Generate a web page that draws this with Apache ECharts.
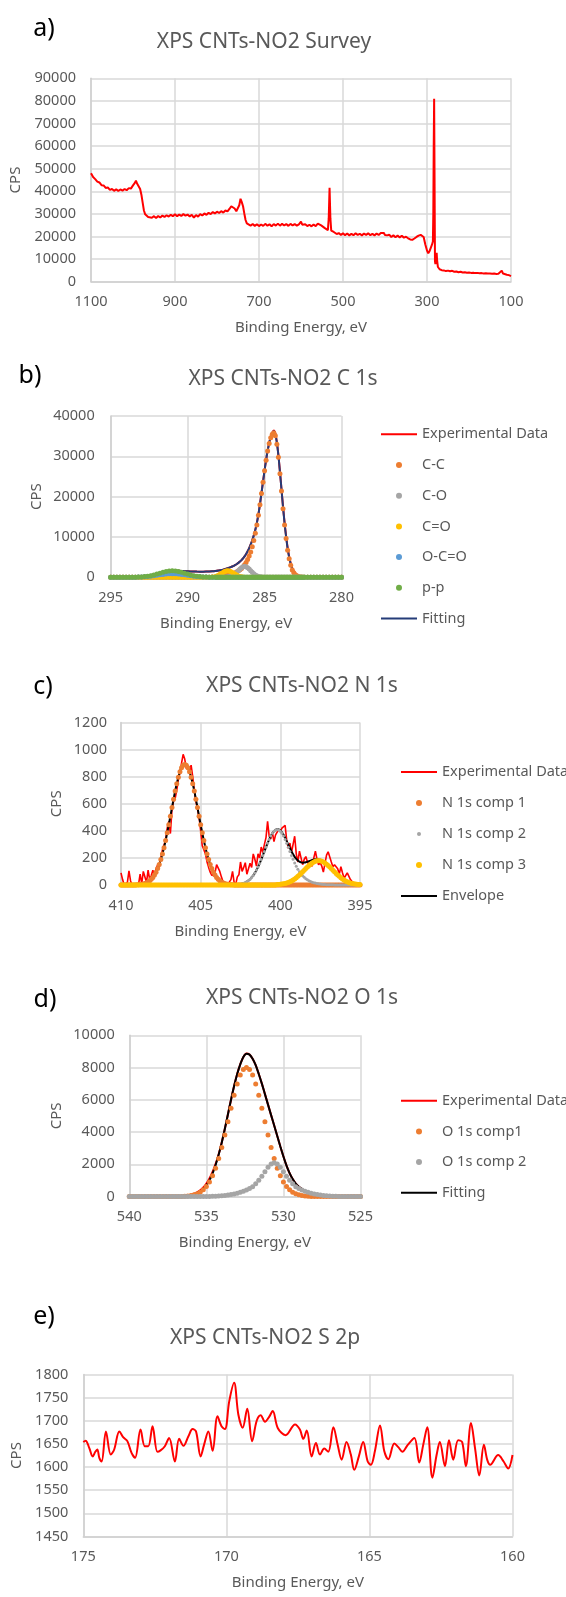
<!DOCTYPE html>
<html><head><meta charset="utf-8">
<script src="https://cdn.jsdelivr.net/npm/echarts@6/dist/echarts.min.js"></script>
<style>
html,body{margin:0;padding:0;background:#fff;width:566px;height:1597px;overflow:hidden}
.panel{position:absolute;left:0;width:566px}
</style></head><body>
<div id="pa" class="panel" style="top:0;height:345px"></div>
<div id="pb" class="panel" style="top:345px;height:300px"></div>
<div id="pc" class="panel" style="top:645px;height:300px"></div>
<div id="pd" class="panel" style="top:945px;height:315px"></div>
<div id="pe" class="panel" style="top:1260px;height:337px"></div>
<script>
// ---------------- a) Survey ----------------
const surveyData = [[1100,48000],[1095,46300],[1090,45400],[1085,44300],[1080,43900],[1075,42700],[1070,42600],[1065,41500],[1060,41700],[1055,40600],[1050,41000],[1045,40200],[1040,40900],[1035,40100],[1030,40800],[1025,40300],[1020,41000],[1015,40500],[1010,41400],[1005,41200],[1000,42600],[996,43600],[993,44700],[990,43300],[986,44000],[983,41000],[980,38500],[977,35000],[974,31500],[971,29800],[968,29400],[964,28600],[960,29100],[955,28300],[950,29000],[945,28200],[940,29100],[935,28400],[930,29300],[925,28600],[920,29400],[915,28800],[910,29600],[905,29000],[900,29800],[895,29000],[890,29700],[885,29100],[880,29900],[875,29200],[870,29700],[865,28900],[860,29600],[855,28400],[850,29500],[845,28800],[840,29900],[835,29300],[830,30200],[825,29600],[820,30500],[815,29900],[810,30800],[805,30200],[800,31000],[795,30400],[790,31200],[785,30600],[780,31500],[775,31100],[770,32300],[766,33400],[762,33900],[758,32400],[754,31200],[750,31400],[747,33800],[744,36700],[741,35200],[738,33400],[735,30200],[732,27300],[729,25800],[725,25400],[720,24800],[715,25500],[710,24700],[705,25400],[700,24600],[695,25300],[690,24700],[685,25600],[680,24800],[675,25400],[670,24500],[665,25500],[660,24800],[655,25700],[650,24800],[645,25600],[640,24900],[635,25500],[630,24700],[625,25600],[620,24900],[615,25500],[610,24800],[605,25400],[600,26600],[597,25200],[593,24700],[590,25400],[585,24600],[580,25200],[575,24500],[570,25300],[565,24600],[560,25700],[556,26000],[552,24900],[548,24700],[544,23800],[540,23300],[536,22800],[534,28000],[532,41600],[530,28000],[528,22600],[525,23300],[522,22000],[519,21500],[515,21100],[510,21500],[505,20700],[500,21400],[495,20600],[490,21300],[485,20500],[480,21200],[475,20600],[470,21400],[465,20700],[460,21200],[455,20500],[450,21300],[445,20700],[440,21400],[435,20600],[430,21200],[425,20500],[420,21300],[415,20700],[410,21500],[406,22300],[403,21600],[400,20700],[395,20500],[390,20800],[385,19800],[380,20500],[375,19700],[370,20400],[365,19600],[360,20300],[355,19500],[350,19900],[345,19200],[340,18700],[335,18500],[330,19100],[325,19800],[320,20400],[315,20700],[311,20900],[308,19800],[304,16500],[300,13800],[297,12600],[294,13500],[291,15000],[288,16500],[286,17800],[285,30000],[284,60000],[283,81000],[282,45000],[281,9000],[280,7800],[279,8300],[277,12800],[276,9500],[274,6500],[272,5800],[270,5500],[265,5100],[260,5000],[255,4700],[250,4900],[245,4600],[240,4800],[235,4400],[230,4500],[225,4200],[220,4400],[215,4100],[210,4200],[205,4000],[200,4100],[195,3900],[190,4000],[185,3800],[180,3900],[175,3700],[170,3800],[165,3600],[160,3700],[155,3600],[150,3650],[145,3500],[140,3600],[135,3450],[130,3500],[126,3700],[122,4900],[119,3600],[115,3300],[110,3100],[105,2900],[100,2500]];

// ---------------- b) C 1s ----------------
const c1sEnergy = [295.0,294.8,294.6,294.4,294.2,294.0,293.8,293.6,293.4,293.2,
293.0,292.8,292.6,292.4,292.2,292.0,291.8,291.6,291.4,291.2,
291.0,290.8,290.6,290.4,290.2,290.0,289.8,289.6,289.4,289.2,
289.0,288.8,288.6,288.4,288.2,288.1,288.0,287.9,287.8,287.7,
287.6,287.5,287.4,287.3,287.2,287.1,287.0,286.9,286.8,286.7,
286.6,286.5,286.4,286.3,286.2,286.1,286.0,285.9,285.8,285.7,
285.6,285.5,285.4,285.3,285.2,285.1,285.0,284.9,284.8,284.7,
284.6,284.5,284.4,284.3,284.2,284.1,284.0,283.9,283.8,283.7,
283.6,283.5,283.4,283.3,283.2,283.1,283.0,282.9,282.8,282.7,
282.6,282.5,282.4,282.2,282.0,281.8,281.6,281.4,281.2,281.0,
280.8,280.6,280.4,280.2,280.0];
const c1sExperimental = [0,0,0,0,0,0,0,20,50,90,
150,240,360,520,700,900,1100,1290,1450,1570,
1630,1640,1620,1580,1530,1480,1450,1430,1410,1400,
1400,1410,1440,1490,1560,1610,1670,1740,1820,1910,
2010,2120,2240,2370,2510,2670,2850,3060,3300,3580,
3900,4270,4700,5200,5780,6450,7250,8150,9200,10400,
11800,13500,15600,18100,20900,23700,26500,29100,31400,33300,
34900,35900,36400,35700,33500,30300,26200,21900,17500,13600,
10200,7300,5100,3500,2300,1500,1000,650,420,240,
120,50,10,0,0,0,0,0,0,0,
0,0,0,0,0];
const c1sCC = [0,0,0,0,0,0,0,0,0,0,
0,0,0,0,0,0,0,0,0,0,
0,0,0,0,0,0,0,0,0,0,
0,0,0,50,100,120,150,190,230,280,
350,420,500,600,700,850,1000,1150,1350,1600,
1900,2200,2600,3100,3700,4400,5300,6300,7600,9100,
10900,13000,15400,18000,20800,23600,26400,29000,31300,33200,
34600,35500,35800,35100,33000,29800,25700,21400,17000,13000,
9600,6700,4600,3000,1800,1100,630,360,190,100,
50,0,0,0,0,0,0,0,0,0,
0,0,0,0,0];
const c1sCO = [0,0,0,0,0,0,0,0,0,0,
0,0,0,0,0,0,0,0,0,0,
0,0,0,0,0,0,0,0,0,0,
0,0,0,0,0,0,0,0,0,0,
0,30,60,120,215,365,585,880,1240,1640,
2040,2380,2620,2700,2620,2380,2040,1640,1240,880,
585,365,215,120,60,30,0,0,0,0,
0,0,0,0,0,0,0,0,0,0,
0,0,0,0,0,0,0,0,0,0,
0,0,0,0,0,0,0,0,0,0,
0,0,0,0,0];
const c1sCdO = [0,0,0,0,0,0,0,0,0,0,
0,0,0,0,0,0,0,0,0,0,
0,0,0,0,0,0,0,0,0,0,
0,0,20,70,215,345,520,735,970,1210,
1410,1550,1600,1550,1410,1210,970,735,520,345,
215,130,70,35,20,0,0,0,0,0,
0,0,0,0,0,0,0,0,0,0,
0,0,0,0,0,0,0,0,0,0,
0,0,0,0,0,0,0,0,0,0,
0,0,0,0,0,0,0,0,0,0,
0,0,0,0,0];
const c1sOCdO = [0,0,0,0,0,0,0,14,26,45,
76,122,184,268,370,485,605,723,815,878,
900,878,815,723,605,485,370,268,184,122,
76,45,26,14,0,0,0,0,0,0,
0,0,0,0,0,0,0,0,0,0,
0,0,0,0,0,0,0,0,0,0,
0,0,0,0,0,0,0,0,0,0,
0,0,0,0,0,0,0,0,0,0,
0,0,0,0,0,0,0,0,0,0,
0,0,0,0,0,0,0,0,0,0,
0,0,0,0,0];
const c1sPiPi = [0,0,0,0,0,0,0,0,29,56,
100,171,275,415,594,802,1026,1243,1429,1556,
1600,1556,1429,1243,1026,802,594,415,275,171,
100,56,29,0,0,0,0,0,0,0,
0,0,0,0,0,0,0,0,0,0,
0,0,0,0,0,0,0,0,0,0,
0,0,0,0,0,0,0,0,0,0,
0,0,0,0,0,0,0,0,0,0,
0,0,0,0,0,0,0,0,0,0,
0,0,0,0,0,0,0,0,0,0,
0,0,0,0,0];
const c1sFitting = [0,0,0,0,0,0,0,20,50,90,
150,240,360,520,700,900,1100,1290,1450,1570,
1630,1640,1620,1580,1530,1480,1450,1430,1410,1400,
1400,1410,1440,1490,1560,1610,1670,1740,1820,1910,
2010,2120,2240,2370,2510,2670,2850,3060,3300,3580,
3900,4270,4700,5200,5780,6450,7250,8150,9200,10400,
11800,13500,15600,18100,20900,23700,26500,29100,31400,33300,
34800,35800,36200,35500,33400,30200,26100,21800,17400,13400,
10000,7100,4900,3300,2100,1300,800,460,250,130,
60,20,0,0,0,0,0,0,0,0,
0,0,0,0,0];

// ---------------- c) N 1s ----------------
const n1sEnergy = [410.0,409.9,409.8,409.7,409.6,409.5,409.4,409.3,409.2,409.1,
409.0,408.9,408.8,408.7,408.6,408.5,408.4,408.3,408.2,408.1,
408.0,407.9,407.8,407.7,407.6,407.5,407.4,407.3,407.2,407.1,
407.0,406.9,406.8,406.7,406.6,406.5,406.4,406.3,406.2,406.1,
406.0,405.9,405.8,405.7,405.6,405.5,405.4,405.3,405.2,405.1,
405.0,404.9,404.8,404.7,404.6,404.5,404.4,404.3,404.2,404.1,
404.0,403.9,403.8,403.7,403.6,403.5,403.4,403.3,403.2,403.1,
403.0,402.9,402.8,402.7,402.6,402.5,402.4,402.3,402.2,402.1,
402.0,401.9,401.8,401.7,401.6,401.5,401.4,401.3,401.2,401.1,
401.0,400.9,400.8,400.7,400.6,400.5,400.4,400.3,400.2,400.1,
400.0,399.9,399.8,399.7,399.6,399.5,399.4,399.3,399.2,399.1,
399.0,398.9,398.8,398.7,398.6,398.5,398.4,398.3,398.2,398.1,
398.0,397.9,397.8,397.7,397.6,397.5,397.4,397.3,397.2,397.1,
397.0,396.9,396.8,396.7,396.6,396.5,396.4,396.3,396.2,396.1,
396.0,395.9,395.8,395.7,395.6,395.5,395.4,395.3,395.2,395.1,
395.0];
const n1sExperimental = [90,40,0,0,20,105,30,0,0,0,
0,5,80,10,100,95,20,110,40,70,
110,60,120,150,130,200,260,250,330,420,
470,380,560,620,640,700,780,830,900,965,
930,860,880,840,885,800,700,620,560,500,
400,290,260,230,170,130,95,70,60,90,
150,140,100,60,25,10,10,5,10,40,
100,20,5,60,75,170,100,130,165,80,
120,160,130,230,190,140,230,200,280,240,
300,350,470,360,340,390,320,370,380,410,
395,420,430,440,330,270,310,240,300,360,
230,170,250,200,150,190,210,170,150,160,
140,200,250,190,150,165,140,95,160,220,
245,240,170,135,150,160,120,80,135,90,
50,60,90,80,40,25,30,10,20,5,
0];
const n1sComp1 = [0,0,0,0,0,0,0,0,0,0,
1,2,4,5,8,12,16,23,31,42,
56,73,95,121,152,188,229,276,328,385,
445,508,572,634,695,748,795,836,866,884,
890,884,866,836,795,748,695,634,572,508,
445,385,328,276,229,188,152,121,95,73,
56,42,31,23,16,12,8,5,4,2,
1,0,0,0,0,0,0,0,0,0,
0,0,0,0,0,0,0,0,0,0,
0,0,0,0,0,0,0,0,0,0,
0,0,0,0,0,0,0,0,0,0,
0,0,0,0,0,0,0,0,0,0,
0,0,0,0,0,0,0,0,0,0,
0,0,0,0,0,0,0,0,0,0,
0,0,0,0,0,0,0,0,0,0,
0];
const n1sComp2 = [0,0,0,0,0,0,0,0,0,0,
0,0,0,0,0,0,0,0,0,0,
0,0,0,0,0,0,0,0,0,0,
0,0,0,0,0,0,0,0,0,0,
0,0,0,0,0,0,0,0,0,0,
0,0,0,0,0,0,0,0,0,0,
0,0,0,0,0,0,0,0,0,0,
0,0,0,0,4,6,9,13,18,25,
33,43,56,71,89,110,133,159,188,218,
248,279,309,336,362,382,397,407,410,407,
397,382,362,336,309,279,248,218,190,163,
139,117,98,82,68,57,47,39,32,26,
21,17,14,11,9,7,5,4,3,2,
2,1,1,1,0,0,0,0,0,0,
0,0,0,0,0,0,0,0,0,0,
0];
const n1sComp3 = [0,0,0,0,0,0,0,0,0,0,
0,0,0,0,0,0,0,0,0,0,
0,0,0,0,0,0,0,0,0,0,
0,0,0,0,0,0,0,0,0,0,
0,0,0,0,0,0,0,0,0,0,
0,0,0,0,0,0,0,0,0,0,
0,0,0,0,0,0,0,0,0,0,
0,0,0,0,0,0,0,0,0,0,
0,0,0,0,0,0,0,0,0,0,
0,0,0,0,0,0,0,0,3,4,
5,7,9,12,15,19,24,30,37,45,
54,64,74,85,97,109,121,133,144,154,
163,170,176,179,180,179,176,170,163,154,
144,133,121,109,97,85,74,64,54,45,
37,30,24,19,15,12,9,7,5,4,
3];
const n1sEnvelope = [0,0,0,0,0,0,0,0,0,0,
1,2,4,5,8,12,16,23,31,42,
56,73,95,121,152,188,229,276,328,385,
445,508,572,634,695,748,795,836,866,884,
890,884,866,836,795,748,695,634,572,508,
445,385,328,276,229,188,152,121,95,73,
56,42,31,23,16,12,8,5,4,2,
1,0,0,0,4,6,9,13,18,25,
33,43,56,71,89,110,133,159,188,218,
248,279,309,336,362,382,397,407,413,411,
402,389,371,348,324,298,272,248,227,208,
193,181,172,167,165,166,168,172,176,180,
184,187,190,190,189,186,181,174,166,156,
146,134,122,110,97,85,74,64,54,45,
37,30,24,19,15,12,9,7,5,4,
3];

// ---------------- d) O 1s ----------------
const o1sEnergy = [540.0,539.8,539.6,539.4,539.2,539.0,538.8,538.6,538.4,538.2,
538.0,537.8,537.6,537.4,537.2,537.0,536.8,536.6,536.4,536.2,
536.0,535.8,535.6,535.4,535.2,535.0,534.8,534.6,534.4,534.2,
534.0,533.8,533.6,533.4,533.2,533.0,532.8,532.6,532.4,532.2,
532.0,531.8,531.6,531.4,531.2,531.0,530.8,530.6,530.4,530.2,
530.0,529.8,529.6,529.4,529.2,529.0,528.8,528.6,528.4,528.2,
528.0,527.8,527.6,527.4,527.2,527.0,526.8,526.6,526.4,526.2,
526.0,525.8,525.6,525.4,525.2,525.0];
const o1sExperimental = [0,0,0,0,0,0,0,0,0,0,
0,0,0,0,0,0,0,0,30,60,
110,170,260,380,560,800,1120,1520,2020,2620,
3360,4200,5100,6000,6850,7600,8200,8660,8870,8810,
8550,8150,7600,7000,6350,5700,5050,4400,3750,3100,
2480,1920,1450,1080,800,600,460,360,280,210,
160,120,90,65,45,30,20,12,6,0,
0,0,0,0,0,0];
const o1sComp1 = [0,0,0,0,0,0,0,0,0,0,
0,0,0,0,0,0,0,0,19,34,
59,101,167,267,415,620,905,1280,1760,2350,
3040,3810,4640,5480,6280,6980,7530,7880,8000,7880,
7530,6980,6280,5480,4640,3810,3040,2350,1760,1280,
905,620,415,267,167,101,59,34,19,0,
0,0,0,0,0,0,0,0,0,0,
0,0,0,0,0,0];
const o1sComp2 = [0,0,0,0,0,0,0,0,0,0,
0,0,0,0,0,0,0,0,0,0,
0,0,0,0,0,0,6,12,20,30,
45,65,90,120,155,200,260,330,400,490,
610,790,1010,1260,1540,1820,2020,2100,2020,1820,
1540,1260,1010,790,610,490,400,330,260,200,
155,120,90,65,45,30,20,12,6,0,
0,0,0,0,0,0];
const o1sFitting = [0,0,0,0,0,0,0,0,0,0,
0,0,0,0,0,0,0,0,20,40,
70,115,190,300,460,690,1000,1420,1950,2600,
3350,4200,5100,6000,6850,7600,8200,8650,8850,8800,
8550,8150,7600,7000,6350,5700,5050,4400,3750,3100,
2480,1920,1450,1080,800,600,460,360,280,210,
160,120,90,65,45,30,20,12,6,0,
0,0,0,0,0,0];

// ---------------- e) S 2p ----------------
const s2pData = [[175.0,1654],[174.92,1657],[174.79,1641],[174.67,1623],[174.58,1633],[174.51,1638],[174.44,1620],[174.36,1612],[174.21,1677],[174.04,1627],[173.92,1638],[173.74,1677],[173.6,1664],[173.46,1656],[173.31,1630],[173.19,1620],[173.0,1681],[172.85,1645],[172.73,1645],[172.58,1688],[172.41,1633],[172.3,1636],[172.15,1645],[172.0,1663],[171.8,1612],[171.65,1661],[171.5,1646],[171.33,1666],[171.18,1682],[171.06,1677],[170.9,1623],[170.78,1648],[170.63,1677],[170.48,1635],[170.31,1710],[170.17,1688],[170.05,1682],[169.9,1742],[169.73,1782],[169.58,1713],[169.43,1685],[169.27,1726],[169.1,1656],[168.94,1700],[168.8,1712],[168.65,1698],[168.51,1708],[168.38,1721],[168.2,1684],[167.93,1669],[167.6,1692],[167.43,1681],[167.31,1661],[167.19,1679],[167.02,1623],[166.87,1652],[166.73,1627],[166.58,1640],[166.44,1633],[166.26,1686],[166.11,1648],[165.97,1616],[165.8,1654],[165.65,1627],[165.53,1594],[165.37,1623],[165.22,1654],[165.06,1612],[164.95,1605],[164.81,1634],[164.63,1690],[164.48,1634],[164.34,1617],[164.13,1651],[163.99,1643],[163.85,1633],[163.66,1648],[163.43,1663],[163.26,1610],[163.12,1648],[162.98,1686],[162.8,1577],[162.65,1627],[162.54,1654],[162.36,1602],[162.22,1658],[162.07,1616],[161.9,1658],[161.76,1654],[161.63,1602],[161.45,1695],[161.31,1641],[161.16,1582],[161.0,1648],[160.88,1615],[160.78,1605],[160.5,1626],[160.31,1612],[160.15,1597],[160.0,1626]];

// ---------------- helpers ----------------
const FONT = '"Noto Sans", "DejaVu Sans", sans-serif';
const TXT = '#595959';
const RED = '#FF0000', ORANGE = '#ED7D31', GRAY = '#A5A5A5', GOLD = '#FFC000', BLUE = '#5B9BD5', GREEN = '#70AD47', NAVY = '#253C78', BLACK = '#000000';
const LINE_ICON = 'path://M0,0H36V2H0Z';
const SMALL_DOT_ICON = 'path://M0,0M36,6M16,3a2,2 0 1,0 4,0a2,2 0 1,0 -4,0Z';

function zip(xs, ys) { return xs.map((x, i) => [x, ys[i]]); }

function lineSeries(name, data, color, width, smooth) {
  return { type: 'line', name, data, symbol: 'none', showSymbol: false, smooth: smooth || false,
    lineStyle: { color, width }, itemStyle: { color }, z: 2, silent: true, animation: false };
}
function dotSeries(name, data, color, size) {
  return { type: 'scatter', name, data, symbol: 'circle', symbolSize: size || 5,
    itemStyle: { color, opacity: 1 }, z: 3, silent: true, animation: false };
}

function makeOption(p) {
  const axisLine = { show: true, lineStyle: { color: '#cfcfcf', width: 1.5 } };
  const split = { show: true, lineStyle: { color: '#d9d9d9', width: 1.5 } };
  const lab = (m) => ({ color: TXT, fontSize: 14.5, fontFamily: FONT, margin: m, formatter: v => String(v) });
  const opt = {
    animation: false,
    textStyle: { fontFamily: FONT },
    graphic: [
      { type: 'text', x: p.tag[1], y: p.tag[2], style: { text: p.tag[0], fill: '#000', fontSize: 25, fontFamily: FONT, align: 'center', verticalAlign: 'middle' } },
      { type: 'text', x: p.title[1], y: p.title[2], style: { text: p.title[0], fill: TXT, fontSize: 21, fontFamily: FONT, align: 'center', verticalAlign: 'middle' } }
    ],
    grid: { left: p.grid[0], top: p.grid[1], width: p.grid[2], height: p.grid[3], containLabel: false, outerBoundsMode: 'none' },
    xAxis: { type: 'value', inverse: true, min: p.x[0], max: p.x[1], interval: p.x[2],
      name: 'Binding Energy, eV', nameLocation: 'middle', nameGap: p.xNameGap,
      nameTextStyle: { color: TXT, fontSize: 15, fontFamily: FONT },
      axisLine, axisTick: { show: false }, axisLabel: lab(13), splitLine: split },
    yAxis: { type: 'value', min: p.y[0], max: p.y[1], interval: p.y[2],
      name: 'CPS', nameLocation: 'middle', nameGap: p.yNameGap,
      nameTextStyle: { color: TXT, fontSize: 15, fontFamily: FONT },
      axisLine, axisTick: { show: false }, axisLabel: lab(p.yMargin), splitLine: split },
    series: p.series
  };
  if (p.legend) {
    opt.legend = { orient: 'vertical', left: p.legend.left, top: p.legend.top, padding: 0,
      itemWidth: 36, itemHeight: 6, itemGap: p.legend.gap, selectedMode: false,
      textStyle: { color: TXT, fontSize: 14.5, fontFamily: FONT, lineHeight: 16 },
      data: p.legend.items };
  }
  return opt;
}

function render(id, p) {
  const chart = echarts.init(document.getElementById(id), null, { renderer: 'canvas' });
  chart.setOption(makeOption(p));
}

// a) Survey
render('pa', {
  tag: ['a)', 44, 29], title: ['XPS CNTs-NO2 Survey', 264, 42],
  grid: [91, 78.3, 420, 203.4], x: [100, 1100, 200], y: [0, 90000, 10000],
  xNameGap: 39, yNameGap: 64, yMargin: 15,
  series: [lineSeries('Survey', surveyData, RED, 2, false)]
});

// b) C 1s
render('pb', {
  tag: ['b)', 30, 31], title: ['XPS CNTs-NO2 C 1s', 283, 34],
  grid: [110.7, 71, 230.8, 161.3], x: [280, 295, 5], y: [0, 40000, 10000],
  xNameGap: 39, yNameGap: 66, yMargin: 16,
  series: [
    lineSeries('Experimental Data', zip(c1sEnergy, c1sExperimental), RED, 2, 0.3),
    dotSeries('C-C', zip(c1sEnergy, c1sCC), ORANGE),
    dotSeries('C-O', zip(c1sEnergy, c1sCO), GRAY),
    dotSeries('C=O', zip(c1sEnergy, c1sCdO), GOLD),
    dotSeries('O-C=O', zip(c1sEnergy, c1sOCdO), BLUE),
    dotSeries('p-p', zip(c1sEnergy, c1sPiPi), GREEN),
    lineSeries('Fitting', zip(c1sEnergy, c1sFitting), NAVY, 2, 0.3)
  ],
  legend: { left: 381, top: 81.3, gap: 14.7, items: [
    { name: 'Experimental Data', icon: LINE_ICON }, { name: 'C-C', icon: 'circle' }, { name: 'C-O', icon: 'circle' },
    { name: 'C=O', icon: 'circle' }, { name: 'O-C=O', icon: 'circle' }, { name: 'p-p', icon: 'circle' },
    { name: 'Fitting', icon: LINE_ICON }] }
});

// c) N 1s
render('pc', {
  tag: ['c)', 43, 42], title: ['XPS CNTs-NO2 N 1s', 302, 41],
  grid: [121, 77.5, 239, 162.5], x: [395, 410, 5], y: [0, 1200, 200],
  xNameGap: 39, yNameGap: 57, yMargin: 14,
  series: [
    lineSeries('Experimental Data', zip(n1sEnergy, n1sExperimental), RED, 1.6, false),
    dotSeries('N 1s comp 1', zip(n1sEnergy, n1sComp1), ORANGE, 5),
    dotSeries('N 1s comp 2', zip(n1sEnergy, n1sComp2), GRAY, 3),
    dotSeries('N 1s comp 3', zip(n1sEnergy, n1sComp3), GOLD, 5),
    lineSeries('Envelope', zip(n1sEnergy, n1sEnvelope), BLACK, 2, 0.3)
  ],
  legend: { left: 401, top: 119, gap: 15, items: [
    { name: 'Experimental Data', icon: LINE_ICON }, { name: 'N 1s comp 1', icon: 'circle' },
    { name: 'N 1s comp 2', icon: SMALL_DOT_ICON }, { name: 'N 1s comp 3', icon: 'circle' },
    { name: 'Envelope', icon: LINE_ICON }] }
});

// d) O 1s
render('pd', {
  tag: ['d)', 45, 55], title: ['XPS CNTs-NO2 O 1s', 302, 53.3],
  grid: [129.3, 90.3, 231.2, 161.2], x: [525, 540, 5], y: [0, 10000, 2000],
  xNameGap: 39, yNameGap: 65, yMargin: 14.5,
  series: [
    lineSeries('Experimental Data', zip(o1sEnergy, o1sExperimental), RED, 2, 0.3),
    dotSeries('O 1s comp1', zip(o1sEnergy, o1sComp1), ORANGE, 5),
    dotSeries('O 1s comp 2', zip(o1sEnergy, o1sComp2), GRAY, 5),
    lineSeries('Fitting', zip(o1sEnergy, o1sFitting), BLACK, 2, 0.3)
  ],
  legend: { left: 401, top: 147.7, gap: 14.7, items: [
    { name: 'Experimental Data', icon: LINE_ICON }, { name: 'O 1s comp1', icon: 'circle' },
    { name: 'O 1s comp 2', icon: 'circle' }, { name: 'Fitting', icon: LINE_ICON }] }
});

// e) S 2p
render('pe', {
  tag: ['e)', 44, 56.7], title: ['XPS CNTs-NO2 S 2p', 265, 78.3],
  grid: [83.3, 114.5, 429.2, 162], x: [160, 175, 5], y: [1450, 1800, 50],
  xNameGap: 39, yNameGap: 56, yMargin: 15,
  series: [lineSeries('S 2p', s2pData, RED, 2, 0.35)]
});
</script>
</body></html>
